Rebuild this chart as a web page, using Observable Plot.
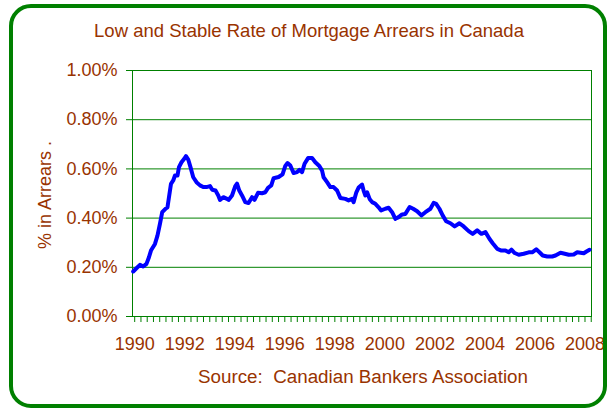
<!DOCTYPE html>
<html>
<head>
<meta charset="utf-8">
<script src="https://cdn.jsdelivr.net/npm/d3@7"></script>
<script src="https://cdn.jsdelivr.net/npm/@observablehq/plot@0.6"></script>
<style>
  html, body { margin: 0; padding: 0; background: #fff; }
  #wrap { position: relative; width: 608px; height: 409px; overflow: hidden; background: #fff;
          font-family: "Liberation Sans", Arial, sans-serif; color: #993300; }
  #border { position: absolute; left: 9px; top: 4px; width: 598px; height: 404px; box-sizing: border-box;
            border: 4.5px solid #008000; border-radius: 22px; pointer-events: none; }
  .txt { position: absolute; font-size: 18px; line-height: 18px; white-space: pre; }
  #chart { position: absolute; left: 0; top: 0; }
</style>
</head>
<body>
<div id="wrap">
  <div id="chart"></div>
  <div id="border"></div>
  <div class="txt" id="title" style="left:309px; top:21.5px; font-size:18.5px; transform:translateX(-50%);"></div>
  <div class="txt" id="source" style="left:363px; top:367.5px; font-size:18.8px; transform:translateX(-50%);"></div>
  <div class="txt" id="ylabel" style="left:45.3px; top:195px; transform:translate(-50%,-50%) rotate(-90deg);"></div>
</div>
<script>
const titleText = "Low and Stable Rate of Mortgage Arrears in Canada";
const sourceText = "Source:  Canadian Bankers Association";
const yLabelText = "% in Arrears .";

const years = [
  1989.94, 1990.07, 1990.21, 1990.34, 1990.47, 1990.57, 1990.65, 1990.81, 1990.91, 1991.01,
  1991.10, 1991.23, 1991.31, 1991.37, 1991.45, 1991.54, 1991.61, 1991.71, 1991.77, 1991.87,
  1991.98, 1992.05, 1992.14, 1992.25, 1992.34, 1992.47, 1992.61, 1992.74, 1992.87, 1993.01,
  1993.10, 1993.23, 1993.34, 1993.41, 1993.54, 1993.69, 1993.75, 1993.89, 1994.02, 1994.09,
  1994.18, 1994.29, 1994.42, 1994.55, 1994.69, 1994.79, 1994.93, 1995.09, 1995.22, 1995.33,
  1995.46, 1995.55, 1995.75, 1995.91, 1996.02, 1996.11, 1996.22, 1996.35, 1996.49, 1996.58,
  1996.69, 1996.79, 1996.93, 1997.09, 1997.22, 1997.38, 1997.49, 1997.55, 1997.69, 1997.82,
  1997.95, 1998.09, 1998.22, 1998.42, 1998.55, 1998.69, 1998.75, 1998.86, 1998.95, 1999.09,
  1999.15, 1999.22, 1999.29, 1999.39, 1999.49, 1999.62, 1999.75, 1999.85, 2000.02, 2000.15,
  2000.29, 2000.42, 2000.55, 2000.69, 2000.82, 2000.99, 2001.13, 2001.29, 2001.46, 2001.62,
  2001.82, 2001.95, 2002.05, 2002.18, 2002.31, 2002.45, 2002.62, 2002.79, 2002.98, 2003.15,
  2003.35, 2003.51, 2003.69, 2003.86, 2004.02, 2004.18, 2004.31, 2004.49, 2004.66, 2004.82,
  2004.95, 2005.06, 2005.19, 2005.35, 2005.55, 2005.75, 2005.89, 2006.05, 2006.18, 2006.31,
  2006.49, 2006.69, 2006.82, 2007.02, 2007.19, 2007.35, 2007.55, 2007.69, 2007.82, 2007.95,
  2008.06, 2008.18
];
const arrears = [
  0.183, 0.196, 0.210, 0.203, 0.214, 0.241, 0.268, 0.295, 0.329, 0.377,
  0.424, 0.438, 0.444, 0.485, 0.539, 0.553, 0.573, 0.573, 0.607, 0.627,
  0.641, 0.652, 0.638, 0.600, 0.566, 0.546, 0.533, 0.526, 0.526, 0.530,
  0.515, 0.512, 0.492, 0.474, 0.485, 0.478, 0.474, 0.492, 0.530, 0.540,
  0.512, 0.492, 0.465, 0.461, 0.485, 0.474, 0.503, 0.501, 0.505, 0.523,
  0.533, 0.562, 0.567, 0.578, 0.612, 0.624, 0.614, 0.583, 0.587, 0.596,
  0.587, 0.621, 0.644, 0.644, 0.627, 0.612, 0.593, 0.566, 0.546, 0.526,
  0.526, 0.512, 0.482, 0.478, 0.472, 0.478, 0.465, 0.505, 0.524, 0.536,
  0.512, 0.492, 0.505, 0.478, 0.465, 0.458, 0.444, 0.431, 0.438, 0.442,
  0.424, 0.397, 0.404, 0.415, 0.417, 0.445, 0.438, 0.428, 0.411, 0.424,
  0.438, 0.462, 0.458, 0.438, 0.411, 0.387, 0.379, 0.366, 0.379, 0.366,
  0.347, 0.336, 0.350, 0.336, 0.343, 0.316, 0.298, 0.275, 0.268, 0.268,
  0.261, 0.272, 0.258, 0.251, 0.255, 0.261, 0.261, 0.273, 0.261, 0.248,
  0.244, 0.244, 0.248, 0.259, 0.255, 0.251, 0.252, 0.261, 0.259, 0.257,
  0.264, 0.271
];

const yTicks = [0, 0.2, 0.4, 0.6, 0.8, 1.0];
const xLabelYears = [1990, 1992, 1994, 1996, 1998, 2000, 2002, 2004, 2006, 2008];
const quarterTicks = d3.range(1990, 2008.3, 0.25);

const data = years.map((y, i) => ({year: y, value: arrears[i]}));

const green = "#008000";
const brown = "#993300";

document.getElementById("title").textContent = titleText;
document.getElementById("source").textContent = sourceText;
document.getElementById("ylabel").textContent = yLabelText;

const chart = Plot.plot({
  width: 608,
  height: 409,
  marginTop: 70,
  marginBottom: 93,
  marginLeft: 132,
  marginRight: 17,
  style: {fontFamily: "'Liberation Sans', Arial, sans-serif", fontSize: "18px", background: "transparent", overflow: "visible"},
  x: {domain: [1989.912, 2008.26]},
  y: {domain: [0, 1.0]},
  marks: [
    Plot.gridY(yTicks, {stroke: green, strokeOpacity: 1}),
    Plot.frame({stroke: green}),
    Plot.axisY(yTicks, {tickSize: 6, tickPadding: 9, stroke: green, fill: brown, fontSize: 18,
      tickFormat: d => d.toFixed(2) + "%", label: null}),
    Plot.axisX(quarterTicks, {tickSize: 6, stroke: green, tickFormat: () => "", label: null}),
    Plot.axisX(xLabelYears, {tickSize: 0, tickPadding: 20.5, fill: brown, fontSize: 18,
      tickFormat: d => String(d), label: null}),
    Plot.line(data, {x: "year", y: "value", stroke: "#0000ff", strokeWidth: 4,
      strokeLinejoin: "round", strokeLinecap: "round"})
  ]
});
document.getElementById("chart").appendChild(chart);
</script>
</body>
</html>
